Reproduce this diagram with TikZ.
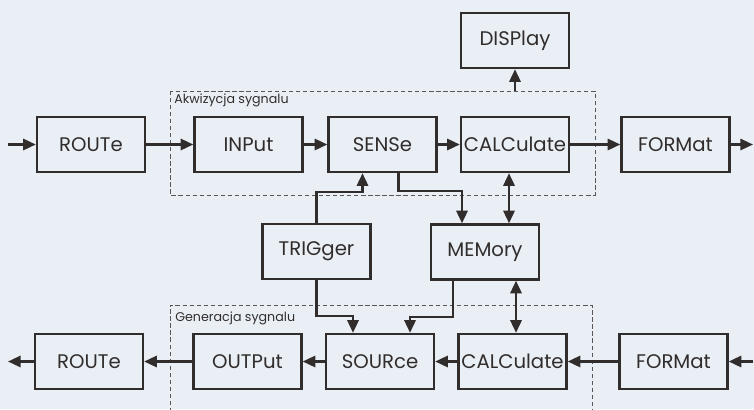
\documentclass[tikz,border=0pt]{standalone}
\usepackage{fontspec}
\setmainfont{Poppins}
\usetikzlibrary{calc,arrows.meta}

\definecolor{paper}{RGB}{233,239,245}
\definecolor{ink}{RGB}{50,45,45}

\tikzset{
  blok/.style={draw=ink, line width=1.7pt, minimum width=2.7cm, minimum height=1.375cm,
    inner sep=0pt, text=ink, font=\fontsize{14}{16}\selectfont},
  arr/.style={draw=ink, line width=1.7pt, -{Triangle[length=9pt,width=8pt]}},
  dbl/.style={draw=ink, line width=1.7pt, {Triangle[length=9pt,width=8pt]}-{Triangle[length=9pt,width=8pt]}},
  grupa/.style={draw=ink!80, line width=0.5pt, densely dashed},
  opis/.style={anchor=west, text=ink, font=\fontsize{9}{11}\selectfont, inner sep=0pt}
}

\begin{document}
\begin{tikzpicture}[x=0.025cm, y=-0.025cm]
\fill[paper] (0,0) rectangle (754,409);
\useasboundingbox (0,0) rectangle (754,409);

% akwizycja
\node[blok] (route1) at (91,144.5) {ROUTe};
\node[blok] (input) at (248.5,144.5) {INPut};
\node[blok] (sense) at (382.5,144.5) {SENSe};
\node[blok] (calc1) at (515,144.5) {CALCulate};
\node[blok] (format1) at (675.5,144.5) {FORMat};
\node[blok] (display) at (515,40.5) {DISPlay};

% srodek
\node[blok] (trigger) at (316.5,251.5) {TRIGger};
\node[blok] (memory) at (485,252) {MEMory};

% generacja
\node[blok] (route2) at (89,361.5) {ROUTe};
\node[blok] (output) at (247.5,361.5) {OUTPut};
\node[blok] (source) at (380,361.5) {SOURce};
\node[blok] (calc2) at (512.5,361.5) {CALCulate};
\node[blok] (format2) at (673.5,361.5) {FORMat};

\coordinate (in1) at (8,144.5);
\coordinate (out1) at (753,144.5);
\coordinate (in2) at (753,361.5);
\coordinate (out2) at (8,361.5);

\coordinate (akwNW) at (170,91);
\coordinate (akwSE) at (595,195);
\coordinate (genNW) at (170,305);
\coordinate (genSE) at (592,412);

\draw[grupa] (akwNW) rectangle (akwSE);
\draw[grupa] (genNW |- genSE) -- (genNW) -| (genSE);
\node[opis] (akwlabel) at (174,100) {Akwizycja sygnalu};
\node[opis] (genlabel) at (175,318) {Generacja sygnalu};

\draw[arr] (in1) -- (route1);
\draw[arr] (route1) -- (input);
\draw[arr] (input) -- (sense);
\draw[arr] (sense) -- (calc1);
\draw[arr] (calc1) -- (format1);
\draw[arr] (format1) -- (out1);
\draw[arr] (display.south |- akwNW) -- (display.south);

\draw[arr] (in2) -- (format2);
\draw[arr] (format2) -- (calc2);
\draw[arr] (calc2) -- (source);
\draw[arr] (source) -- (output);
\draw[arr] (output) -- (route2);
\draw[arr] (route2) -- (out2);

\draw[arr] ([xshift=0.4cm]sense.south) -- ++(0,18) -| ([xshift=-0.575cm]memory.north);
\draw[dbl] ([xshift=0.6cm]memory.north) -- ([xshift=0.6cm]memory.north |- calc1.south);
\draw[arr] (trigger.north) -- ++(0,-31) -| ([xshift=-0.5cm]sense.south);
\draw[arr] (trigger.south) -- ++(0,36) -| ([xshift=-0.675cm]source.north);
\draw[arr] ([xshift=-0.8cm]memory.south) -- ++(0,36) -| ([xshift=0.75cm]source.north);
\draw[dbl] ([xshift=0.775cm]memory.south) -- ([xshift=0.775cm]memory.south |- calc2.north);
\end{tikzpicture}
\end{document}
